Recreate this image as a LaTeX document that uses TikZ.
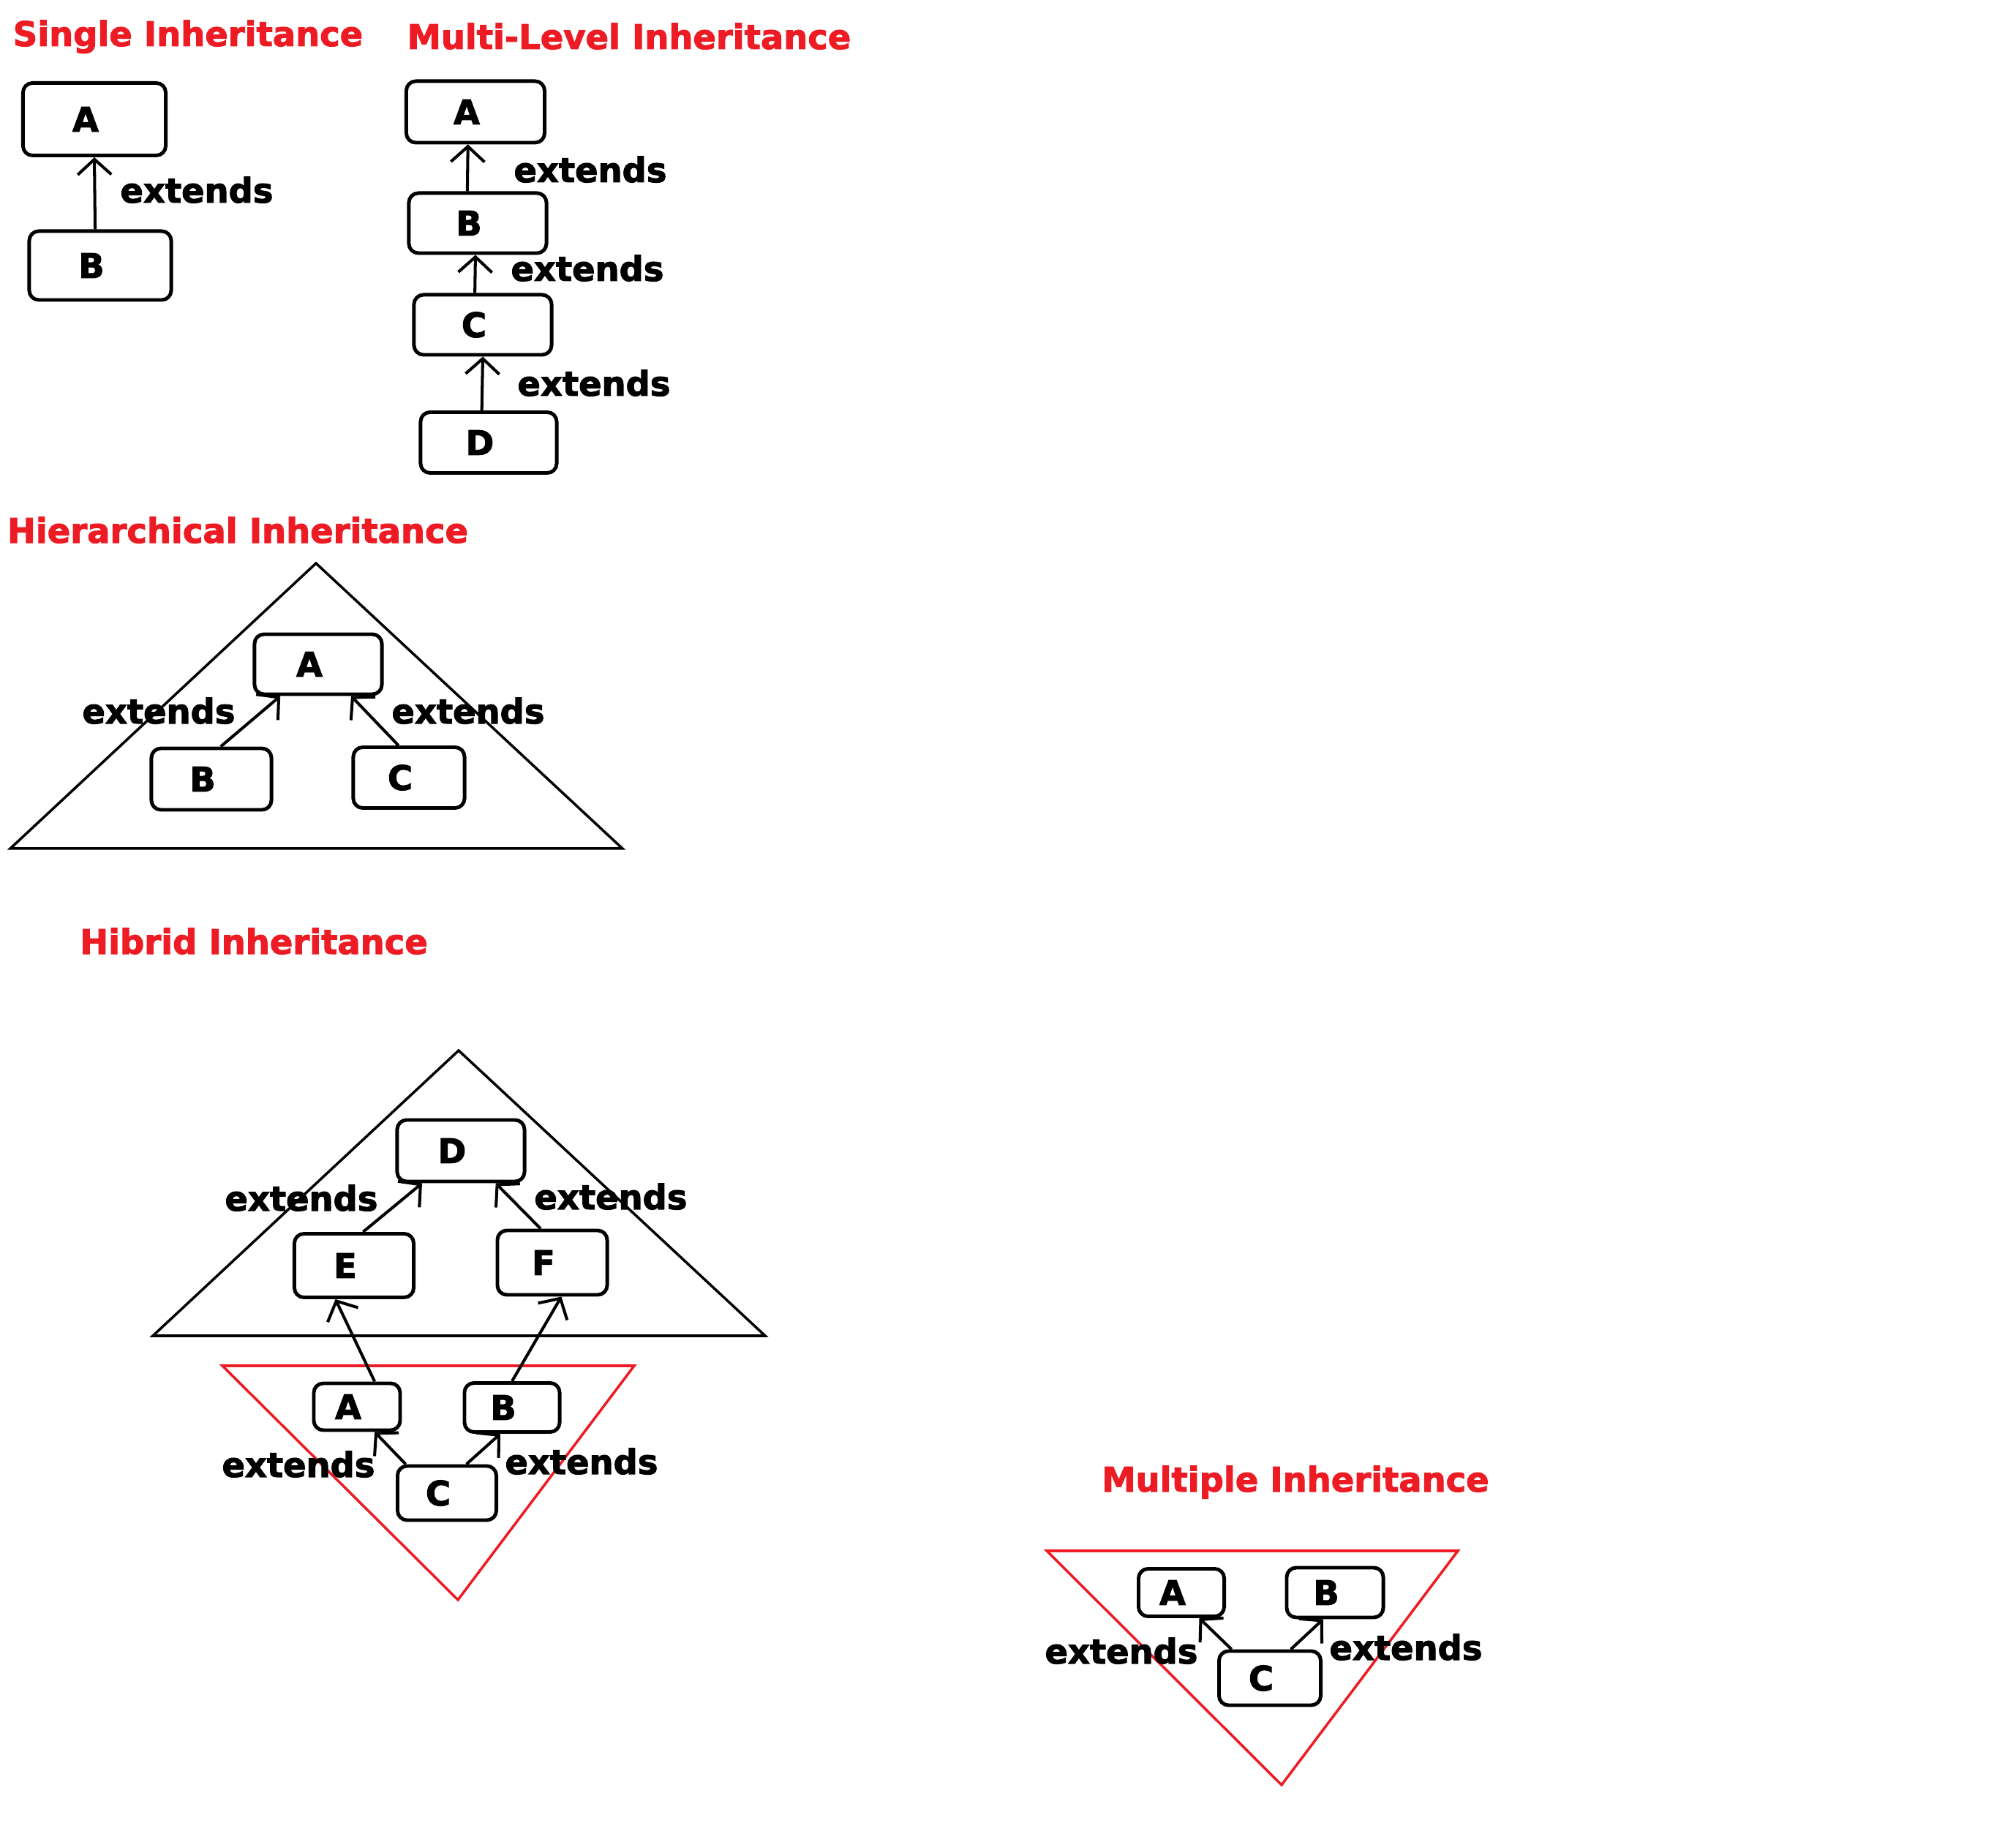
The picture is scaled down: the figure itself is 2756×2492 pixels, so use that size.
\documentclass[tikz,border=0pt]{standalone}
\usepackage{fontspec}
\setmainfont{DejaVu Sans}[BoldFeatures={FakeBold=2.2}]
\usetikzlibrary{arrows.meta}
\definecolor{titleRed}{RGB}{237,28,36}
\newcommand{\extText}{extends}
\newcommand{\boxLine}{1.4pt}
\newcommand{\arrowLine}{1.15pt}

\begin{document}
\begin{tikzpicture}[x=0.01cm, y=-0.01cm,
    font=\fontsize{13.2}{15}\selectfont\bfseries,
    classbox/.style 2 args={draw, line width=\boxLine, rounded corners=0.13cm,
      minimum width=#1, minimum height=#2, inner sep=0pt,
      execute at begin node={\hspace*{-0.24cm}}},
    heading/.style={text=titleRed, anchor=base, inner sep=0pt},
    extlabel/.style={anchor=base, inner sep=0pt},
    inherit/.style={-{Straight Barb[length=0.21cm, width=0.46cm, line width=\arrowLine]}, line width=\arrowLine},
    tri/.style={line width=1pt, line join=miter}]
  \useasboundingbox (0,0) rectangle (2756,2492);

  % titles
  \node[heading] (tSingle) at (257,63) {Single Inheritance};
  \node[heading] (tMulti) at (860,67) {Multi-Level Inheritance};
  \node[heading] (tHier) at (325,742) {Hierarchical Inheritance};
  \node[heading] (tHybrid) at (347,1304) {Hibrid Inheritance};
  \node[heading] (tMultiple) at (1771,2039) {Multiple Inheritance};

  % single
  \node[classbox={1.95cm}{0.99cm}] (sA) at (129,163) {A};
  \node[classbox={1.94cm}{0.94cm}] (sB) at (137,363) {B};
  \draw[inherit] (sB.98) -- (sA.south);
  \node[extlabel] (sExt) at (269,277) {\extText};

  % multi-level
  \node[classbox={1.89cm}{0.84cm}] (mA) at (650,153) {A};
  \node[classbox={1.88cm}{0.82cm}] (mB) at (653,305) {B};
  \node[classbox={1.88cm}{0.82cm}] (mC) at (660,444) {C};
  \node[classbox={1.86cm}{0.83cm}] (mD) at (668,605) {D};
  \draw[inherit] (mB.108) -- (mA.257);
  \draw[inherit] (mC.104) -- (mB.266);
  \draw[inherit] (mD.102) -- (mC.south);
  \node[extlabel] (mExtA) at (807,249) {\extText};
  \node[extlabel] (mExtB) at (803,384) {\extText};
  \node[extlabel] (mExtC) at (812,541) {\extText};

  % hierarchical
  \draw[tri] (432,770) -- (851,1160) -- (14,1160) -- cycle;
  \node[classbox={1.74cm}{0.82cm}] (hA) at (435,908) {A};
  \node[classbox={1.64cm}{0.84cm}] (hB) at (289,1065) {B};
  \node[classbox={1.52cm}{0.83cm}] (hC) at (559,1063) {C};
  \draw[inherit] (hB.74) -- (hA.220);
  \draw[inherit] (hC.108) -- (hA.316);
  \node[extlabel] (hExtL) at (217,989) {\extText};
  \node[extlabel] (hExtR) at (640,989) {\extText};

  % hybrid
  \draw[tri] (627,1436) -- (1046,1826) -- (209,1826) -- cycle;
  \draw[tri, titleRed] (304,1867) -- (867,1867) -- (626,2187) -- cycle;
  \node[classbox={1.74cm}{0.84cm}] (yD) at (630,1573) {D};
  \node[classbox={1.63cm}{0.87cm}] (yE) at (484,1730) {E};
  \node[classbox={1.50cm}{0.88cm}] (yF) at (755,1726) {F};
  \node[classbox={1.18cm}{0.64cm}] (yA) at (488,1923) {A};
  \node[classbox={1.30cm}{0.67cm}] (yB) at (700,1924) {B};
  \node[classbox={1.35cm}{0.74cm}] (yC) at (611,2041) {C};
  \draw[inherit] (yE.75) -- (yD.220);
  \draw[inherit] (yF.109) -- (yD.317);
  \draw[inherit] (yA.55) -- (yE.241);
  \draw[inherit] (yB.north) -- (yF.285);
  \draw[inherit] (yC.145) -- (yA.305);
  \draw[inherit] (yC.56) -- (yB.246);
  \node[extlabel] (yExtA) at (412,1655) {\extText};
  \node[extlabel] (yExtB) at (835,1653) {\extText};
  \node[extlabel] (yExtC) at (408,2019) {\extText};
  \node[extlabel] (yExtD) at (795,2015) {\extText};

  % multiple
  \draw[tri, titleRed] (1431,2120) -- (1993,2120) -- (1752,2440) -- cycle;
  \node[classbox={1.17cm}{0.65cm}] (pA) at (1615,2177) {A};
  \node[classbox={1.32cm}{0.68cm}] (pB) at (1825,2177) {B};
  \node[classbox={1.39cm}{0.74cm}] (pC) at (1736,2294) {C};
  \draw[inherit] (pC.143) -- (pA.305);
  \draw[inherit] (pC.54) -- (pB.246);
  \node[extlabel] (pExtL) at (1533,2274) {\extText};
  \node[extlabel] (pExtR) at (1922,2269) {\extText};
\end{tikzpicture}
\end{document}
